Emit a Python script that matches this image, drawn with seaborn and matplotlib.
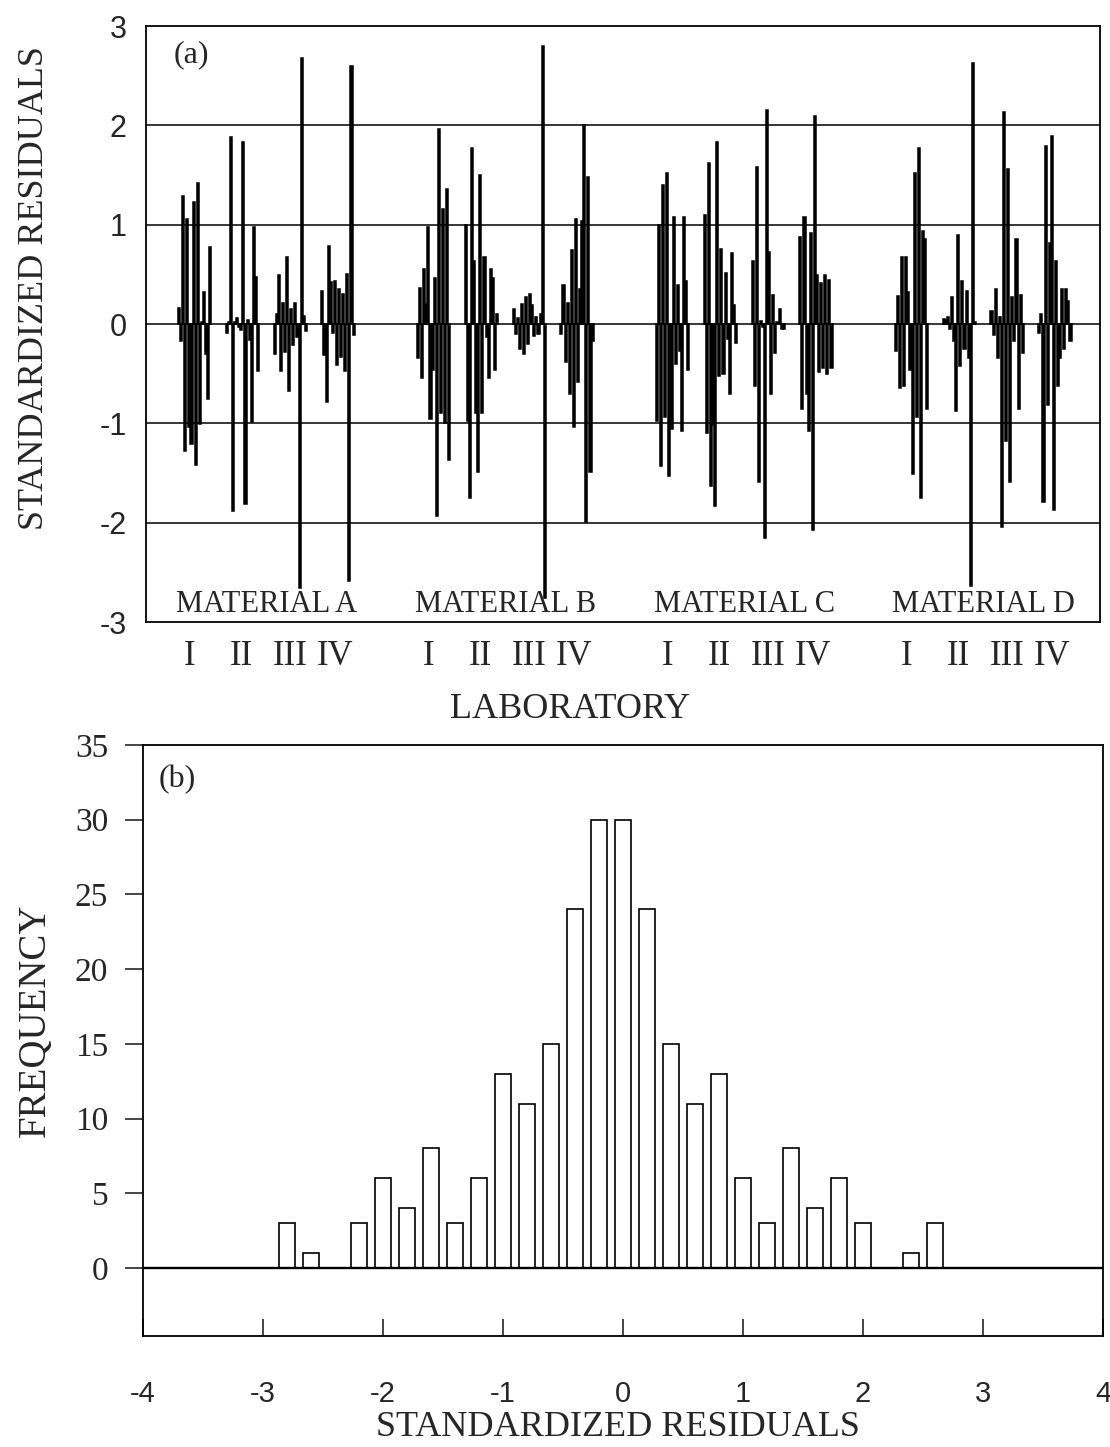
import numpy as np
import pandas as pd
import matplotlib
matplotlib.use("Agg")
import matplotlib.pyplot as plt
import seaborn as sns

# ---------------- data: panel (a) standardized residuals, per material / laboratory ----------------
materials = ["A", "B", "C", "D"]
labs = ["I", "II", "III", "IV"]

res_A_I = [0.16, -0.17, 1.29, -1.28, 1.06, -1.04, -1.21, 1.23, -1.42, 1.42, -1.01, 0.02, 0.32, -0.30, -0.76, 0.78]
res_A_II = [-0.09, 0.02, 1.88, -1.88, 0.02, 0.06, -0.03, -0.06, 1.83, -1.81, 0.04, -0.16, -0.99, 0.98, 0.47, -0.47]
res_A_III = [-0.30, 0.10, 0.49, -0.47, 0.21, -0.28, 0.67, -0.67, 0.15, -0.21, 0.21, -0.13, -2.66, 2.68, 0.08, -0.07]
res_A_IV = [0.33, -0.31, -0.79, 0.79, 0.42, -0.09, 0.43, -0.41, 0.35, -0.33, 0.30, -0.47, 0.50, -2.59, 2.60, -0.11]

res_B_I = [-0.34, 0.36, -0.54, 0.55, 0.20, 0.98, -0.96, -0.46, 0.46, -1.93, 1.96, -0.90, 1.16, -1.00, 1.36, -1.37]
res_B_II = [1.00, -0.98, -1.75, 1.77, 0.63, -0.90, -1.49, 1.50, -0.90, 0.67, -0.13, -0.54, 0.55, 0.46, -0.46, 0.10]
res_B_III = [0.15, -0.10, 0.06, -0.25, 0.20, -0.30, 0.27, -0.20, 0.30, 0.19, -0.12, 0.07, -0.10, 0.10, 2.80, -2.76]
res_B_IV = [-0.10, 0.39, -0.38, 0.21, -0.70, 0.74, -1.04, 1.06, -0.58, 0.35, 1.04, 2.00, -1.99, 1.48, -1.49, -0.17]

res_C_I = [-0.98, 1.00, -1.43, 1.40, -0.94, 1.52, -1.53, -1.06, 1.08, -0.40, 0.39, -0.27, -1.08, 1.08, 0.43, -0.46]
res_C_II = [1.10, -1.10, 1.62, -1.63, -1.02, -1.83, 1.83, -0.52, 0.76, -0.50, 0.51, -0.15, -0.70, 0.71, 0.19, -0.19]
res_C_III = [0.63, -0.62, 1.58, -1.59, 0.03, -0.03, -2.15, 2.15, 0.72, -0.70, 0.29, -0.29, 0.02, 0.15, -0.05, -0.05]
res_C_IV = [0.88, -0.86, 1.08, -0.70, -1.08, 0.92, -2.07, 2.09, 0.49, -0.48, 0.41, -0.44, 0.49, -0.50, 0.44, -0.44]

res_D_I = [-0.27, 0.28, -0.64, 0.67, -0.62, 0.67, 0.32, -0.46, -1.51, 1.52, -0.94, 1.77, -1.75, 0.94, 0.86, -0.86]
res_D_II = [0.05, 0.04, 0.07, -0.05, 0.27, -0.17, -0.88, 0.90, -0.42, 0.43, -0.25, 0.33, -0.34, -2.64, 2.63, 0.02]
res_D_III = [0.13, -0.11, 0.35, -0.34, 0.07, -2.04, 2.13, -1.18, 1.56, -1.59, 0.27, -0.17, 0.86, -0.86, 0.29, -0.29]
res_D_IV = [-0.09, 0.10, -1.79, 1.79, -0.82, 0.82, 1.89, -1.87, 0.63, -0.62, -0.34, 0.35, -0.25, 0.35, 0.23, -0.17]

# ---------------- data: panel (b) histogram of standardized residuals ----------------
hist_centers = [-2.8, -2.6, -2.2, -2.0, -1.8, -1.6, -1.4, -1.2, -1.0, -0.8, -0.6, -0.4, -0.2,
                0.0, 0.2, 0.4, 0.6, 0.8, 1.0, 1.2, 1.4, 1.6, 1.8, 2.0, 2.4, 2.6]
hist_counts = [3, 1, 3, 6, 4, 8, 3, 6, 13, 11, 15, 24, 30,
               30, 24, 15, 11, 13, 6, 3, 8, 4, 6, 3, 1, 3]

y_ticks_a = [-3, -2, -1, 0, 1, 2, 3]
y_ticks_b = [0, 5, 10, 15, 20, 25, 30, 35]
x_ticks_b = [-4, -3, -2, -1, 0, 1, 2, 3, 4]

# ---------------- build table ----------------
residuals = {
    ("A", "I"): res_A_I, ("A", "II"): res_A_II, ("A", "III"): res_A_III, ("A", "IV"): res_A_IV,
    ("B", "I"): res_B_I, ("B", "II"): res_B_II, ("B", "III"): res_B_III, ("B", "IV"): res_B_IV,
    ("C", "I"): res_C_I, ("C", "II"): res_C_II, ("C", "III"): res_C_III, ("C", "IV"): res_C_IV,
    ("D", "I"): res_D_I, ("D", "II"): res_D_II, ("D", "III"): res_D_III, ("D", "IV"): res_D_IV,
}
SLOT = 23
rows = []
lab_tick_pos, lab_tick_lab, mat_pos = [], [], []
lab_label_offset = [5, 7, 7.5, 6]
for mi, m in enumerate(materials):
    for li, l in enumerate(labs):
        slot = mi * 5 + li
        for j, v in enumerate(residuals[(m, l)]):
            rows.append({"pos": slot * SLOT + j, "res": v})
        lab_tick_pos.append(slot * SLOT + lab_label_offset[li])
        lab_tick_lab.append(l)
    mat_pos.append((mi * 5 + 1.5) * SLOT + 7.5)
df_a = pd.DataFrame(rows)
df_b = pd.DataFrame({"center": hist_centers, "count": hist_counts})

# ---------------- style ----------------
sns.set_style("white")
plt.rcParams["font.family"] = ["Liberation Serif", "DejaVu Serif"]
SANS = ["Liberation Sans", "DejaVu Sans"]

W, H = 1110, 1447
fig = plt.figure(figsize=(W / 100, H / 100), dpi=100)

# ---------------- panel (a) ----------------
ax1 = fig.add_axes([146 / W, 1 - 622 / H, (1100 - 146) / W, (622 - 26) / H])
for g in [-2, -1, 0, 1, 2]:
    ax1.axhline(g, color="black", lw=1.1, zorder=0)
sns.barplot(data=df_a, x="pos", y="res", native_scale=True, orient="x",
            color="black", saturation=1, width=1.0, errorbar=None,
            edgecolor="black", linewidth=1.1, ax=ax1, zorder=2)
ax1.set_xlim(-15.9, 443.2)
ax1.set_ylim(-3, 3)
ax1.set_yticks(y_ticks_a)
ax1.set_yticklabels([str(t) for t in y_ticks_a], family=SANS, fontsize=22)
ax1.set_xticks(lab_tick_pos)
ax1.set_xticklabels(lab_tick_lab, fontsize=25)
ax1.tick_params(axis="y", length=0, pad=14)
ax1.tick_params(axis="x", length=0, pad=13)
ax1.set_xlabel("")
ax1.set_ylabel("")
for sp in ax1.spines.values():
    sp.set_visible(True)
    sp.set_color("black")
    sp.set_linewidth(1.3)
for mi, m in enumerate(materials):
    ax1.text(mat_pos[mi], -2.82, f"MATERIAL {m}", ha="center", va="center", fontsize=22, zorder=3)
ax1.text(0.048, 0.951, "(a)", transform=ax1.transAxes, ha="center", va="center", fontsize=23)

fig.text(35 / W, 1 - 288 / H, "STANDARDIZED RESIDUALS", rotation=90, ha="center", va="center", fontsize=26)
fig.text(570 / W, 1 - 710 / H, "LABORATORY", ha="center", va="center", fontsize=26)

# ---------------- panel (b) ----------------
ax2 = fig.add_axes([143 / W, 1 - 1336 / H, 960 / W, (1336 - 745) / H])
sns.barplot(data=df_b, x="center", y="count", native_scale=True, orient="x",
            color="white", saturation=1, width=0.67, errorbar=None,
            edgecolor="black", linewidth=1.2, ax=ax2, zorder=2)
ax2.axhline(0, color="black", lw=1.7, zorder=3)
ax2.set_xlim(-4, 4)
ax2.set_ylim(-4.55, 35)
ax2.set_yticks(y_ticks_b)
ax2.set_yticklabels([str(t) for t in y_ticks_b], fontsize=24)
ax2.set_xticks(x_ticks_b)
ax2.set_xticklabels([str(t) for t in x_ticks_b], family=SANS, fontsize=21)
ax2.tick_params(axis="y", direction="out", length=13, width=1.2, pad=12, left=True)
ax2.tick_params(axis="x", direction="in", length=12, width=1.2, pad=32, bottom=True)
ax2.set_xlabel("")
ax2.set_ylabel("")
for sp in ax2.spines.values():
    sp.set_visible(True)
    sp.set_color("black")
    sp.set_linewidth(1.3)
ax2.text(0.036, 0.941, "(b)", transform=ax2.transAxes, ha="center", va="center", fontsize=23)

fig.text(35 / W, 1 - 1020 / H, "FREQUENCY", rotation=90, ha="center", va="center", fontsize=28)
fig.text(618 / W, 1 - 1428 / H, "STANDARDIZED RESIDUALS", ha="center", va="center", fontsize=26)

fig.savefig("out.png", dpi=100)
